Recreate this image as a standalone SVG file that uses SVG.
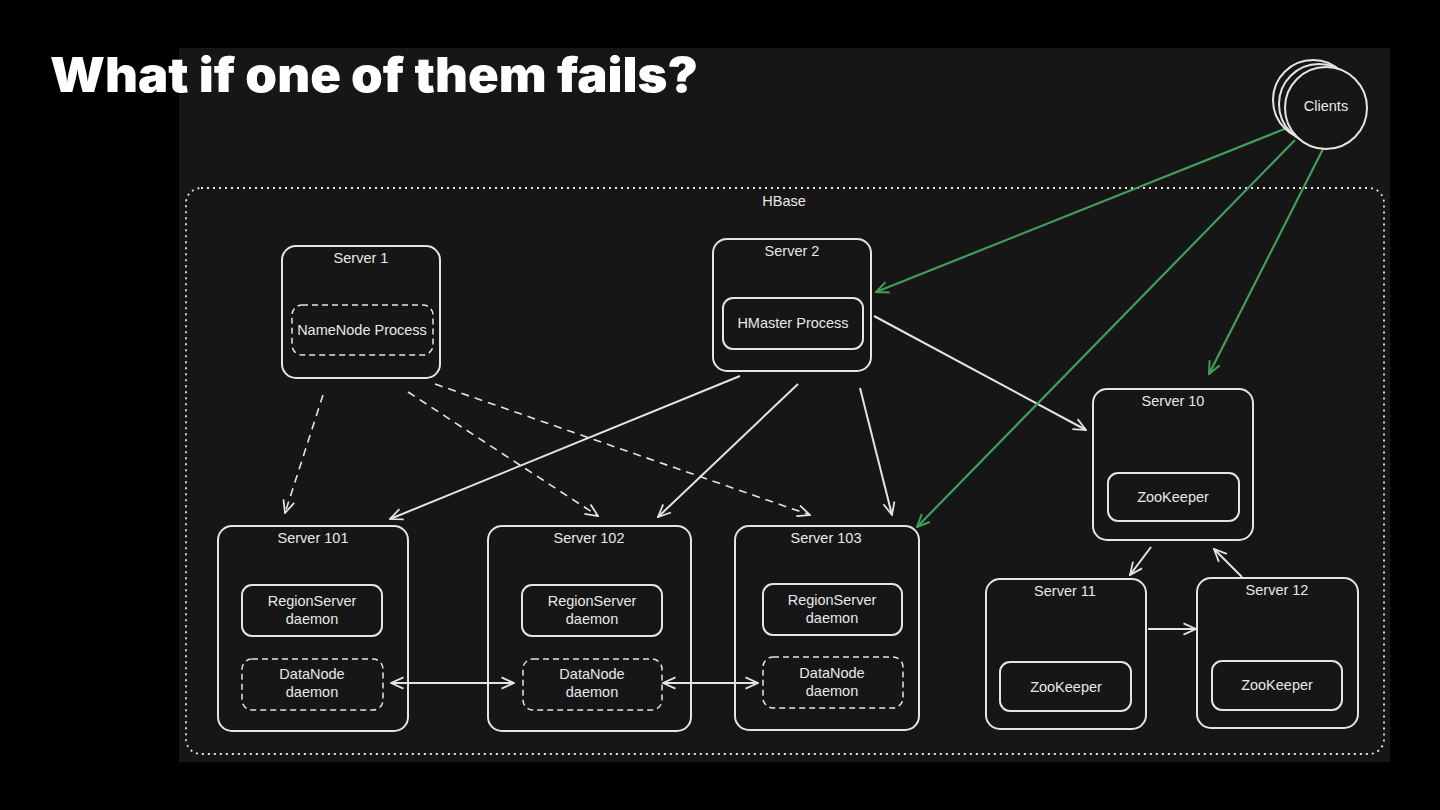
<svg xmlns="http://www.w3.org/2000/svg" width="1440" height="810" viewBox="0 0 1440 810">
<defs>
<style>
.box{fill:none;stroke:#e4e4e4;stroke-width:2}
.dbox{fill:none;stroke:#e4e4e4;stroke-width:1.5;stroke-dasharray:6 4}
.t{font-family:"Liberation Sans","DejaVu Sans",sans-serif;font-size:14.5px;fill:#e8e8e8;text-anchor:middle}
.ln{fill:none;stroke:#e4e4e4;stroke-width:2}
.dl{fill:none;stroke:#e4e4e4;stroke-width:1.6;stroke-dasharray:8 6}
.gl{fill:none;stroke:#3f9e5a;stroke-width:2.2}
</style>
<marker id="a" viewBox="0 0 12 12" refX="11" refY="6" markerWidth="15" markerHeight="15" markerUnits="userSpaceOnUse" orient="auto-start-reverse">
<path d="M1,1.5 L11,6 L1,10.5" fill="none" stroke="#e4e4e4" stroke-width="1.4"/>
</marker>
<marker id="ag" viewBox="0 0 12 12" refX="11" refY="6" markerWidth="15" markerHeight="15" markerUnits="userSpaceOnUse" orient="auto">
<path d="M1,1.5 L11,6 L1,10.5" fill="none" stroke="#3f9e5a" stroke-width="1.6"/>
</marker>
</defs>
<rect x="0" y="0" width="1440" height="810" fill="#000"/>
<rect x="179" y="48" width="1211" height="714" fill="#161616"/>
<text x="50" y="92" font-family="Inter,Lato,'DejaVu Sans',sans-serif" font-weight="900" font-size="48" fill="#fff" textLength="648" lengthAdjust="spacingAndGlyphs">What if one of them fails?</text>

<g id="hbase">
<rect x="186" y="188" width="1198" height="566" rx="15" fill="none" stroke="#e4e4e4" stroke-width="1.8" stroke-dasharray="2 4"/>
<text class="t" x="784" y="206">HBase</text>
</g>

<g id="connectors">
<line class="dl" x1="323" y1="395" x2="285" y2="513" marker-end="url(#a)"/>
<line class="dl" x1="408" y1="392" x2="598" y2="516" marker-end="url(#a)"/>
<line class="dl" x1="435" y1="384" x2="810" y2="515" marker-end="url(#a)"/>
<line class="ln" x1="740" y1="376" x2="390" y2="519" marker-end="url(#a)"/>
<line class="ln" x1="798" y1="384" x2="658" y2="517" marker-end="url(#a)"/>
<line class="ln" x1="860" y1="388" x2="892" y2="515" marker-end="url(#a)"/>
<line class="ln" x1="874" y1="316" x2="1086" y2="430" marker-end="url(#a)"/>
<line class="ln" x1="391" y1="683" x2="514" y2="683" marker-start="url(#a)" marker-end="url(#a)"/>
<line class="ln" x1="663" y1="683" x2="758" y2="683" marker-start="url(#a)" marker-end="url(#a)"/>
<line class="ln" x1="1151" y1="547" x2="1130" y2="575" marker-end="url(#a)"/>
<line class="ln" x1="1242" y1="577" x2="1214" y2="549" marker-end="url(#a)"/>
<line class="ln" x1="1148" y1="629" x2="1196" y2="629" marker-end="url(#a)"/>
<line class="gl" x1="1287" y1="128" x2="876" y2="292" marker-end="url(#ag)"/>
<line class="gl" x1="1295" y1="140" x2="917" y2="527" marker-end="url(#ag)"/>
<line class="gl" x1="1323" y1="149" x2="1209" y2="374" marker-end="url(#ag)"/>
</g>

<g id="clients">
<circle cx="1313" cy="100" r="40" fill="#161616" stroke="#e4e4e4" stroke-width="2"/>
<circle cx="1319" cy="104" r="40" fill="#161616" stroke="#e4e4e4" stroke-width="2"/>
<circle cx="1326" cy="108" r="41" fill="#161616" stroke="#e4e4e4" stroke-width="2"/>
<text class="t" x="1326" y="111">Clients</text>
</g>

<g id="server1">
<rect class="box" x="282" y="246" width="158" height="132" rx="14"/>
<text class="t" x="361" y="263">Server 1</text>
<rect class="dbox" x="292" y="305" width="141" height="50" rx="10"/>
<text class="t" x="362" y="335">NameNode Process</text>
</g>

<g id="server2">
<rect class="box" x="713" y="239" width="158" height="132" rx="14"/>
<text class="t" x="792" y="256">Server 2</text>
<rect class="box" x="723" y="298" width="140" height="51" rx="10" stroke-width="1.6"/>
<text class="t" x="793" y="328">HMaster Process</text>
</g>

<g id="server101">
<rect class="box" x="218" y="526" width="190" height="205" rx="14"/>
<text class="t" x="313" y="543">Server 101</text>
<rect class="box" x="242" y="585" width="140" height="51" rx="10" stroke-width="1.6"/>
<text class="t" x="312" y="606">RegionServer</text>
<text class="t" x="312" y="624">daemon</text>
<rect class="dbox" x="242" y="659" width="141" height="51" rx="10"/>
<text class="t" x="312" y="679">DataNode</text>
<text class="t" x="312" y="697">daemon</text>
</g>

<g id="server102">
<rect class="box" x="488" y="526" width="203" height="205" rx="14"/>
<text class="t" x="589" y="543">Server 102</text>
<rect class="box" x="522" y="585" width="140" height="51" rx="10" stroke-width="1.6"/>
<text class="t" x="592" y="606">RegionServer</text>
<text class="t" x="592" y="624">daemon</text>
<rect class="dbox" x="523" y="659" width="139" height="51" rx="10"/>
<text class="t" x="592" y="679">DataNode</text>
<text class="t" x="592" y="697">daemon</text>
</g>

<g id="server103">
<rect class="box" x="735" y="526" width="184" height="204" rx="14"/>
<text class="t" x="826" y="543">Server 103</text>
<rect class="box" x="763" y="584" width="139" height="51" rx="10" stroke-width="1.6"/>
<text class="t" x="832" y="605">RegionServer</text>
<text class="t" x="832" y="623">daemon</text>
<rect class="dbox" x="763" y="657" width="140" height="51" rx="10"/>
<text class="t" x="832" y="678">DataNode</text>
<text class="t" x="832" y="696">daemon</text>
</g>

<g id="server10">
<rect class="box" x="1093" y="389" width="160" height="151" rx="14"/>
<text class="t" x="1173" y="406">Server 10</text>
<rect class="box" x="1108" y="473" width="131" height="48" rx="10" stroke-width="1.6"/>
<text class="t" x="1173" y="502">ZooKeeper</text>
</g>

<g id="server11">
<rect class="box" x="986" y="579" width="160" height="150" rx="14"/>
<text class="t" x="1065" y="596">Server 11</text>
<rect class="box" x="1000" y="662" width="131" height="49" rx="10" stroke-width="1.6"/>
<text class="t" x="1066" y="692">ZooKeeper</text>
</g>

<g id="server12">
<rect class="box" x="1197" y="578" width="161" height="150" rx="14"/>
<text class="t" x="1277" y="595">Server 12</text>
<rect class="box" x="1212" y="661" width="130" height="49" rx="10" stroke-width="1.6"/>
<text class="t" x="1277" y="690">ZooKeeper</text>
</g>
</svg>
